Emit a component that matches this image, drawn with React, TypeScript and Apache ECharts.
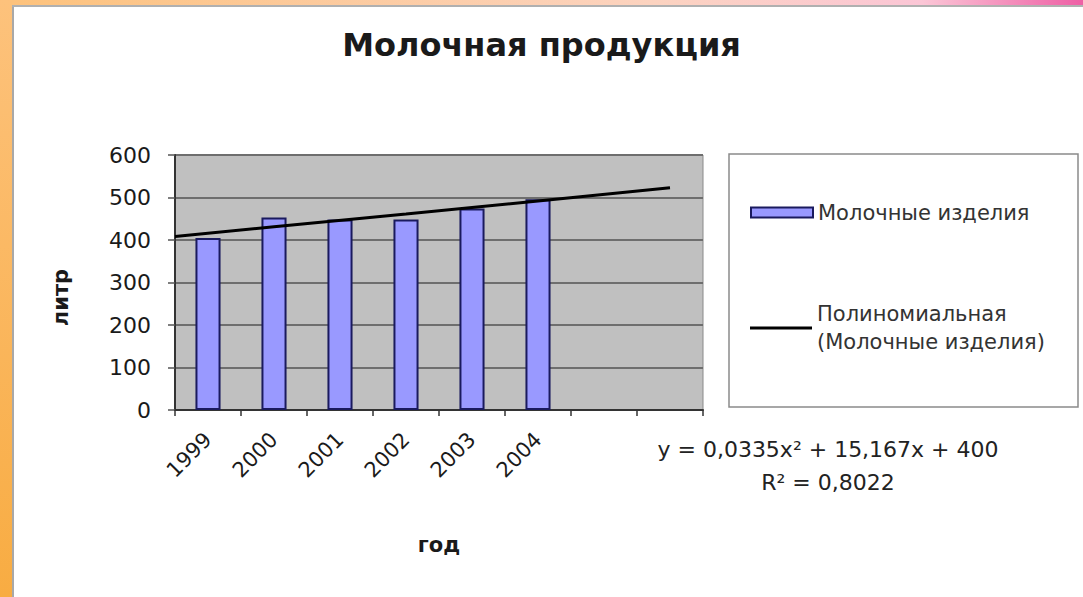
import React, { useEffect, useRef } from "react";
import * as echarts from "echarts";

const TITLE = "Молочная продукция";
const categories = ["1999", "2000", "2001", "2002", "2003", "2004", "", ""];
const milkValues = [405, 453, 448, 448, 474, 496];
const trendX = [0.5, 2, 4, 6, 8];
const trendY = [408, 431, 461, 492, 523];
const yMin = 0;
const yMax = 600;
const yInterval = 100;
const BAR_NAME = "Молочные изделия";
const TREND_NAME = "Полиномиальная (Молочные изделия)";
const EQUATION = "y = 0,0335x² + 15,167x + 400";
const R2 = "R² = 0,8022";
const Y_NAME = "литр";
const X_NAME = "год";

const FONT = "DejaVu Sans";

export default function App() {
  const ref = useRef<HTMLDivElement>(null);
  useEffect(() => {
    if (!ref.current) return;
    const chart = echarts.init(ref.current, null, { renderer: "svg" });
    const option = {
      animation: false,
      backgroundColor: "#ffffff",
      title: {
        text: TITLE,
        left: "center",
        top: 24,
        textStyle: { fontFamily: FONT, fontSize: 32, fontWeight: "bold", color: "#1a1a1a" },
      },
      grid: {
        left: 175,
        top: 155,
        right: 380,
        bottom: 187,
        show: true,
        backgroundColor: "#c0c0c0",
        borderColor: "#8a8a8a",
        borderWidth: 1,
      },
      legend: [
        {
          data: [{ name: BAR_NAME, icon: "rect" }],
          left: 750,
          top: 202,
          padding: 0,
          itemWidth: 62,
          itemHeight: 10,
          selectedMode: false,
          textStyle: { fontFamily: FONT, fontSize: 21, color: "#333" },
        },
        {
          data: [{ name: TREND_NAME, icon: "rect", itemStyle: { color: "#000", borderWidth: 0 } }],
          left: 750,
          top: 286,
          padding: 0,
          itemWidth: 62,
          itemHeight: 3,
          selectedMode: false,
          formatter: () => "Полиномиальная\n(Молочные изделия)",
          textStyle: {
            fontFamily: FONT,
            fontSize: 21,
            color: "#333",
            lineHeight: 28,
            padding: [28, 0, 0, 0],
          },
        },
      ],
      xAxis: [
        {
          type: "category",
          data: categories,
          boundaryGap: true,
          name: X_NAME,
          nameLocation: "middle",
          nameGap: 124,
          nameTextStyle: { fontFamily: FONT, fontSize: 21, fontWeight: "bold", color: "#1a1a1a" },
          axisLine: { lineStyle: { color: "#333", width: 2 } },
          axisTick: { show: true, length: 6, lineStyle: { color: "#333", width: 1.5 } },
          axisLabel: {
            rotate: 45,
            margin: 26,
            fontFamily: FONT,
            fontSize: 21,
            color: "#1a1a1a",
            interval: 0,
          },
          splitLine: { show: false },
        },
        {
          type: "value",
          min: 0.5,
          max: 8.5,
          show: false,
        },
      ],
      yAxis: {
        type: "value",
        min: yMin,
        max: yMax,
        interval: yInterval,
        name: Y_NAME,
        nameLocation: "middle",
        nameRotate: 90,
        nameGap: 104,
        nameTextStyle: {
          fontFamily: FONT,
          fontSize: 21,
          fontWeight: "bold",
          color: "#1a1a1a",
          padding: [0, 30, 0, 0],
        },
        axisLine: { show: true, lineStyle: { color: "#333", width: 2 } },
        axisTick: { show: true, length: 7, lineStyle: { color: "#555", width: 1.5 } },
        axisLabel: { margin: 24, fontFamily: FONT, fontSize: 22, color: "#1a1a1a" },
        splitLine: { show: true, lineStyle: { color: "#6e6e6e", width: 2 } },
      },
      series: [
        {
          name: BAR_NAME,
          type: "bar",
          xAxisIndex: 0,
          data: milkValues,
          barWidth: "38%",
          itemStyle: { color: "#9999ff", borderColor: "#1a1a5e", borderWidth: 2 },
          z: 2,
        },
        {
          name: TREND_NAME,
          type: "line",
          xAxisIndex: 1,
          data: trendX.map((x, i) => [x, trendY[i]]),
          symbol: "none",
          showSymbol: false,
          lineStyle: { color: "#000", width: 3 },
          itemStyle: { color: "#000" },
          z: 3,
        },
      ],
      graphic: [
        {
          type: "rect",
          z: 0,
          shape: { x: 0, y: 0, width: 12, height: 597 },
          style: {
            fill: new echarts.graphic.LinearGradient(0, 0, 0, 1, [
              { offset: 0, color: "#fdc27c" },
              { offset: 1, color: "#f8ac42" },
            ]),
          },
        },
        {
          type: "rect",
          z: 0,
          shape: { x: 12, y: 0, width: 1071, height: 5 },
          style: {
            fill: new echarts.graphic.LinearGradient(0, 0, 1, 0, [
              { offset: 0, color: "#fdc27c" },
              { offset: 0.6, color: "#fcd3c0" },
              { offset: 0.85, color: "#fbc6d6" },
              { offset: 1, color: "#ee5fa5" },
            ]),
          },
        },
        {
          type: "rect",
          z: 0,
          shape: { x: 12, y: 5, width: 2, height: 592 },
          style: { fill: "#a8a8a8" },
        },
        {
          type: "rect",
          z: 0,
          shape: { x: 12, y: 5, width: 1071, height: 2 },
          style: { fill: "#b0b0b0" },
        },
        {
          type: "rect",
          z: 1,
          shape: { x: 729, y: 154, width: 349, height: 253 },
          style: { fill: "#ffffff", stroke: "#8a8a8a", lineWidth: 1.5 },
        },
        {
          type: "text",
          z: 2,
          x: 828,
          y: 449,
          style: {
            text: EQUATION,
            fontFamily: FONT,
            fontSize: 22,
            fill: "#222",
            textAlign: "center",
            textVerticalAlign: "middle",
          },
        },
        {
          type: "text",
          z: 2,
          x: 828,
          y: 482,
          style: {
            text: R2,
            fontFamily: FONT,
            fontSize: 22,
            fill: "#222",
            textAlign: "center",
            textVerticalAlign: "middle",
          },
        },
      ],
    };
    chart.setOption(option as any);
    return () => chart.dispose();
  }, []);
  return (
    <div
      ref={ref}
      style={{ position: "fixed", left: 0, top: 0, width: 1083, height: 597 }}
    />
  );
}
